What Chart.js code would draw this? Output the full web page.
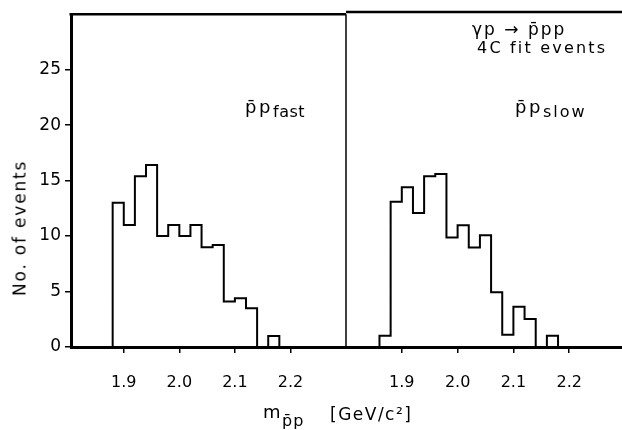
<!DOCTYPE html>
<html>
<head>
<meta charset="utf-8">
<title>Invariant mass of the p̄p system</title>
<script src="https://cdn.jsdelivr.net/npm/chart.js@4.4.1/dist/chart.umd.min.js"></script>
<style>
  html, body { margin: 0; padding: 0; background: #fff; overflow: hidden; }
  #wrap { position: relative; width: 622px; height: 430px; overflow: hidden; background: #fff; }
  canvas { position: absolute; top: 0; }
  #cFast { left: 0; }
  #cSlow { left: 346px; }
  .t { position: absolute; font-family: "DejaVu Sans", sans-serif; color: #000; line-height: 1; white-space: nowrap; }
</style>
</head>
<body>
<div id="wrap">
  <canvas id="cFast" width="350" height="430"></canvas>
  <canvas id="cSlow" width="279" height="430"></canvas>

  <!-- axis titles -->
  <div class="t" id="yTitle" style="font-size:17px; letter-spacing:1.8px; left:19.5px; top:228px; transform:translate(-50%,-50%) rotate(-90deg);">No. of events</div>
  <div class="t" style="font-size:18px; left:263px; top:403px;">m</div>
  <div class="t" style="font-size:16px; letter-spacing:1px; left:282px; top:413px;">p̄p</div>
  <div class="t" style="font-size:17px; letter-spacing:1.5px; left:330px; top:406px;">[GeV/c²]</div>

  <!-- panel labels -->
  <div class="t" style="font-size:18px; letter-spacing:2.5px; left:245px; top:98px;">p̄p</div>
  <div class="t" style="font-size:16px; letter-spacing:0.5px; left:273px; top:104px;">fast</div>
  <div class="t" style="font-size:18px; letter-spacing:2.5px; left:515px; top:98px;">p̄p</div>
  <div class="t" style="font-size:16px; letter-spacing:2px; left:543px; top:104px;">slow</div>
  <div class="t" style="font-size:17px; letter-spacing:2px; left:472px; top:21px;">γp → p̄pp</div>
  <div class="t" style="font-size:16px; letter-spacing:2.2px; left:477px; top:40px;">4C fit events</div>
</div>

<script>
// Bin edges (GeV/c^2) and event counts per 20 MeV bin
const fastEdges = [1.88, 1.90, 1.92, 1.94, 1.96, 1.98, 2.00, 2.02, 2.04, 2.06, 2.08, 2.10, 2.12, 2.14, 2.16, 2.18];
const fastCounts = [13, 11, 15.4, 16.4, 10, 11, 10, 11, 9, 9.2, 4.1, 4.4, 3.5, 0, 1];

const slowEdges = [1.86, 1.88, 1.90, 1.92, 1.94, 1.96, 1.98, 2.00, 2.02, 2.04, 2.06, 2.08, 2.10, 2.12, 2.14, 2.16, 2.18];
const slowCounts = [1, 13, 14.3, 12, 15.3, 15.5, 9.8, 10.9, 8.9, 10, 4.9, 1.1, 3.6, 2.5, 0, 1];

// Axis ticks
const xTickValues = [1.9, 2.0, 2.1, 2.2];
const xTickLabels = ["1.9", "2.0", "2.1", "2.2"];
const yTickValues = [0, 5, 10, 15, 20, 25];
const yTickLabels = ["0", "5", "10", "15", "20", "25"];

Chart.defaults.font.family = '"DejaVu Sans", sans-serif';
Chart.defaults.color = '#000';

// Outline of a histogram: rise at the first edge, one step per bin, drop at the last edge
function histogramOutline(edges, counts) {
  const pts = [{ x: edges[0], y: 0 }];
  counts.forEach((c, i) => pts.push({ x: edges[i], y: c }));
  pts.push({ x: edges[edges.length - 1], y: 0 });
  return pts;
}

// Top edge of the frame and the divider between the two panels
const framePlugin = {
  id: 'frame',
  afterDraw(chart, args, opts) {
    const { ctx, chartArea: a } = chart;
    ctx.save();
    ctx.strokeStyle = '#000';
    ctx.lineWidth = 2.5;
    ctx.beginPath();
    ctx.moveTo(opts.divider ? a.left - 1.5 : 0, a.top);
    ctx.lineTo(opts.toEdge ? chart.width : a.right, a.top);
    ctx.stroke();
    if (opts.divider) {
      ctx.lineWidth = 1.5;
      ctx.beginPath();
      ctx.moveTo(a.right, a.top);
      ctx.lineTo(a.right, a.bottom);
      ctx.stroke();
    }
    ctx.restore();
  }
};

function xScale(min, max) {
  return {
    type: 'linear',
    min: min,
    max: max,
    afterBuildTicks: s => { s.ticks = xTickValues.map(v => ({ value: v })); },
    afterFit: s => { s.height = 83; },
    ticks: {
      callback: (v, i) => xTickLabels[i],
      autoSkip: false,
      maxRotation: 0,
      padding: 20,
      font: { size: 16 },
      color: '#000'
    },
    grid: { drawOnChartArea: false, drawTicks: true, tickLength: 6, color: '#000', lineWidth: 1.5 },
    border: { display: true, color: '#000', width: 3 }
  };
}

function yScale(show) {
  return {
    type: 'linear',
    display: show,
    min: 0,
    max: 30,
    afterBuildTicks: s => { s.ticks = yTickValues.map(v => ({ value: v })); },
    afterFit: s => { s.width = show ? 71 : 0; },
    ticks: {
      callback: (v, i) => yTickLabels[i],
      padding: 4,
      font: { size: 17 },
      color: '#000'
    },
    grid: { drawOnChartArea: false, drawTicks: true, tickLength: 6, color: '#000', lineWidth: 1.5 },
    border: { display: true, color: '#000', width: 3 }
  };
}

function histDataset(edges, counts) {
  return {
    data: histogramOutline(edges, counts),
    stepped: 'before',
    borderColor: '#000',
    borderWidth: 2,
    pointRadius: 0,
    fill: false,
    tension: 0
  };
}

function commonOptions(padding, xmin, xmax, showY, frameOpts) {
  return {
    responsive: false,
    devicePixelRatio: 1,
    animation: false,
    events: [],
    layout: { padding: padding },
    scales: { x: xScale(xmin, xmax), y: yScale(showY) },
    plugins: { legend: { display: false }, tooltip: { enabled: false }, frame: frameOpts }
  };
}

// Left panel: fast-proton combination
new Chart(document.getElementById('cFast'), {
  type: 'line',
  data: { datasets: [histDataset(fastEdges, fastCounts)] },
  options: commonOptions({ top: 12, right: 4, left: 0, bottom: 0 }, 1.805, 2.30, true, { divider: true, toEdge: false }),
  plugins: [framePlugin]
});

// Right panel: slow-proton combination
new Chart(document.getElementById('cSlow'), {
  type: 'line',
  data: { datasets: [histDataset(slowEdges, slowCounts)] },
  options: commonOptions({ top: 12, right: 0, left: 0, bottom: 0 }, 1.80, 2.30, false, { divider: false, toEdge: true }),
  plugins: [framePlugin]
});
</script>
</body>
</html>
